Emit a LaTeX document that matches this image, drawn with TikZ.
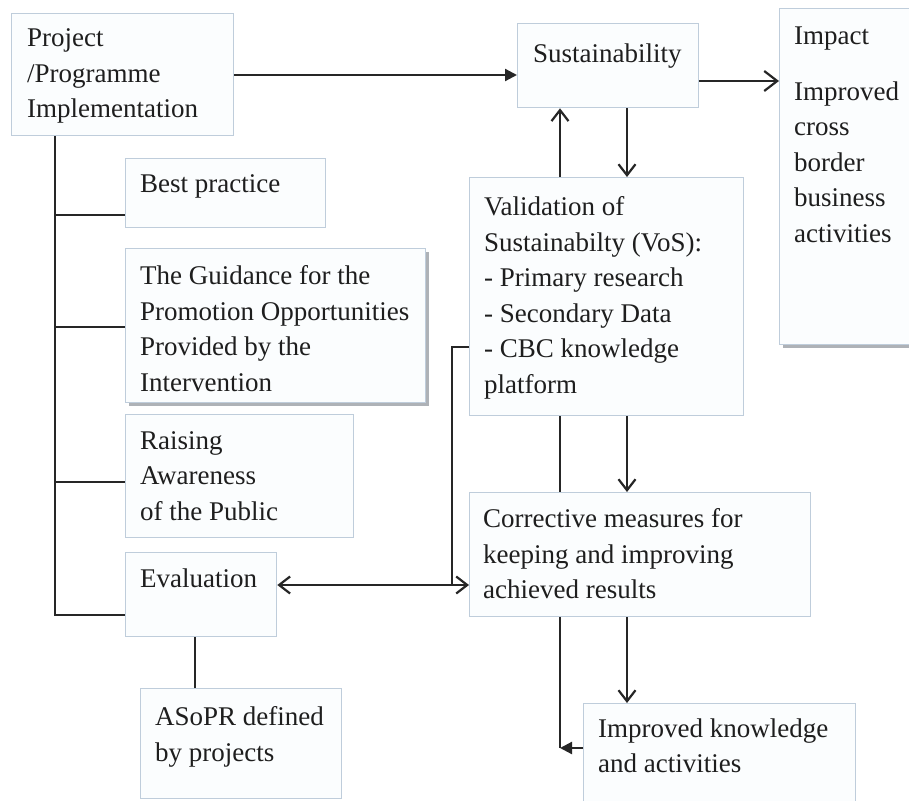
\documentclass[tikz,border=0pt]{standalone}
\usepackage{fontspec}
\setmainfont{Liberation Serif}
\newfontfamily\tnrfont{LiberationSerif-Regular.ttf}
\usetikzlibrary{arrows.meta,shadows,calc}
\definecolor{boxc}{HTML}{BFCDDB}
\definecolor{boxf}{HTML}{FBFDFE}
\definecolor{linec}{HTML}{262626}
\definecolor{textc}{HTML}{1E1E1E}
\definecolor{shadc}{HTML}{9A9FA6}
\begin{document}
\begin{tikzpicture}[x=1pt,y=-1pt,
  box/.style={draw=boxc, fill=boxf, line width=1.3pt, inner sep=0pt, anchor=north west, rectangle},
  shbox/.style={box, drop shadow={shadow xshift=3pt, shadow yshift=-3pt, fill=shadc, opacity=0.8}},
  txt/.style={font=\tnrfont\fontsize{27}{35.5}\selectfont, align=left, inner sep=0pt, anchor=north west, text=textc},
  conn/.style={draw=linec, line width=2.2pt},
  openarr/.style={-{Straight Barb[length=11pt,width=17pt]}},
  bigopen/.style={-{Straight Barb[length=13pt,width=20pt]}},
  openboth/.style={{Straight Barb[length=11pt,width=17pt]}-{Straight Barb[length=11pt,width=17pt]}},
  fillarr/.style={-{Triangle[length=12pt,width=12pt]}}]
\useasboundingbox (0,0) rectangle (909,800);
\fill[white] (0,0) rectangle (909,800);
\clip (0,0) rectangle (909,800);

% boxes
\node[box, minimum width=222pt, minimum height=122pt] (p) at (11,13) {};
\node[box, minimum width=200pt, minimum height=69pt] (bp) at (125,158) {};
\node[shbox, minimum width=300pt, minimum height=154pt] (g) at (125,248) {};
\node[box, minimum width=228pt, minimum height=123pt] (r) at (125,414) {};
\node[box, minimum width=151pt, minimum height=84pt] (e) at (125,552) {};
\node[box, minimum width=201pt, minimum height=110pt] (a) at (140,688) {};
\node[box, minimum width=181pt, minimum height=84pt] (s) at (517,23) {};
\node[shbox, minimum width=151pt, minimum height=336pt] (i) at (779,8) {};
\node[box, minimum width=274pt, minimum height=238pt] (v) at (469,177) {};
\node[box, minimum width=341pt, minimum height=124pt] (c) at (469,492) {};
\node[box, minimum width=272pt, minimum height=112pt] (k) at (583,703) {};

% texts
\node[txt] (pt) at (27,28.5) {Project\\/Programme\\Implementation};
\node[txt] (bpt) at (140,174.5) {Best practice};
\node[txt] (gt) at (140,265.5) {The Guidance for the\\Promotion Opportunities\\Provided by the\\Intervention};
\node[txt] (rt) at (140,431) {Raising\\Awareness\\of the Public};
\node[txt] (et) at (140,568.5) {Evaluation};
\node[txt] (at) at (155,706.5) {ASoPR defined\\by projects};
\node[txt] (st) at (533,43.5) {Sustainability};
\node[txt] (it1) at (794,26.5) {Impact};
\node[txt] (it2) at (794,81.5) {Improved\\cross\\border\\business\\activities};
\node[txt] (vt) at (484,196.5) {Validation of\\Sustainabilty (VoS):\\- Primary research\\- Secondary Data\\- CBC knowledge\\platform};
\node[txt] (ct) at (483,508.5) {Corrective measures for\\keeping and improving\\achieved results};
\node[txt] (kt) at (598,718.5) {Improved knowledge\\and activities};

% coordinates
\coordinate (tb1) at (55,215);
\coordinate (tb2) at (55,327);
\coordinate (tb3) at (55,482);
\coordinate (tb4) at (55,615);
\coordinate (ec) at (0,585);
\coordinate (vb) at (452,347);
\coordinate (kc) at (560,748);
\coordinate (xa) at (560,0);
\coordinate (xb) at (627,0);
\coordinate (xe) at (195,0);

% connectors
\draw[conn, fillarr] (p.east |- 0,75) -- (s.west |- 0,75);
\draw[conn, bigopen] (s.east |- 0,81) -- (i.west |- 0,81);
\draw[conn, openarr] (v.north -| xa) -- (s.south -| xa);
\draw[conn, openarr] (s.south -| xb) -- (v.north -| xb);
\draw[conn] (v.south -| xa) -- (c.north -| xa);
\draw[conn, openarr] (v.south -| xb) -- (c.north -| xb);
\draw[conn, openarr] (c.south -| xb) -- (k.north -| xb);
\draw[conn] (c.south -| kc) -- (kc);
\draw[conn, fillarr] (k.west |- kc) -- (kc);

\draw[conn] (p.south -| tb4) -- (tb4) -- (e.west |- tb4);
\draw[conn] (tb1) -- (bp.west |- tb1);
\draw[conn] (tb2) -- (g.west |- tb2);
\draw[conn] (tb3) -- (r.west |- tb3);

\draw[conn, openboth] (e.east |- ec) -- (c.west |- ec);
\draw[conn] (v.west |- vb) -- (vb) -- (vb |- ec);
\draw[conn] (e.south -| xe) -- (a.north -| xe);
\end{tikzpicture}
\end{document}
